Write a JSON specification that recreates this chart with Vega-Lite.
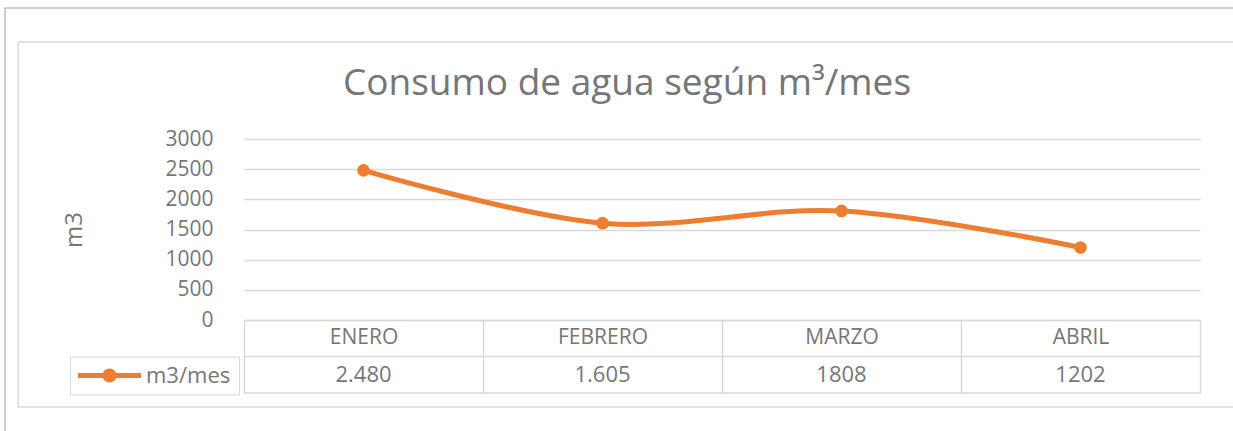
{
  "$schema": "https://vega.github.io/schema/vega-lite/v6.json",
  "width": 956,
  "height": 181,
  "autosize": "none",
  "padding": {"left": 244, "top": 139, "right": 33, "bottom": 111},
  "background": "#ffffff",
  "title": {
    "text": "Consumo de agua según m³/mes",
    "font": "Open Sans",
    "fontSize": 37,
    "fontWeight": "normal",
    "color": "#767676",
    "anchor": "middle",
    "frame": "group",
    "baseline": "alphabetic",
    "offset": 0,
    "dx": -95,
    "dy": 125
  },
  "config": {
    "font": "Open Sans",
    "view": {"stroke": null}
  },
  "data": {
    "values": [
      {"mes": "ENERO", "m3": 2480, "label": "2.480", "serie": "m3/mes"},
      {"mes": "FEBRERO", "m3": 1605, "label": "1.605", "serie": "m3/mes"},
      {"mes": "MARZO", "m3": 1808, "label": "1808", "serie": "m3/mes"},
      {"mes": "ABRIL", "m3": 1202, "label": "1202", "serie": "m3/mes"}
    ]
  },
  "resolve": {"scale": {"x": "independent"}, "axis": {"x": "independent"}},
  "layer": [
    {
      "data": {"values": [{}]},
      "mark": {"type": "rect", "fill": "transparent", "stroke": "#bfbfbf", "strokeWidth": 1.5, "clip": false},
      "encoding": {
        "x": {"datum": -1.0, "type": "quantitative", "scale": {"domain": [0, 4], "nice": false, "zero": false}, "axis": null},
        "x2": {"datum": 4.5},
        "y": {"datum": 5171, "type": "quantitative", "scale": {"domain": [0, 3000], "nice": false},
          "axis": {"values": [0, 500, 1000, 1500, 2000, 2500, 3000], "format": "d", "title": "m3", "titleFont": "Open Sans", "titleFontSize": 24, "titleFontWeight": "normal", "titleColor": "#767676", "titlePadding": 78, "domain": false, "ticks": false, "labelPadding": 31, "labelFont": "Open Sans", "labelFontSize": 21, "labelColor": "#767676", "grid": true, "gridColor": "#d9d9d9", "gridWidth": 1.5}},
        "y2": {"datum": -2000}
      }
    },
    {
      "data": {"values": [{}]},
      "mark": {"type": "rect", "fill": "transparent", "stroke": "#d9d9d9", "strokeWidth": 1.5, "clip": false},
      "encoding": {
        "x": {"datum": -0.945, "type": "quantitative", "scale": {"domain": [0, 4], "nice": false, "zero": false}, "axis": null},
        "x2": {"datum": 4.3},
        "y": {"datum": 4608, "type": "quantitative", "scale": {"domain": [0, 3000], "nice": false},
          "axis": {"values": [0, 500, 1000, 1500, 2000, 2500, 3000], "format": "d", "title": "m3", "titleFont": "Open Sans", "titleFontSize": 24, "titleFontWeight": "normal", "titleColor": "#767676", "titlePadding": 78, "domain": false, "ticks": false, "labelPadding": 31, "labelFont": "Open Sans", "labelFontSize": 21, "labelColor": "#767676", "grid": true, "gridColor": "#d9d9d9", "gridWidth": 1.5}},
        "y2": {"datum": -1442}
      }
    },
    {
      "layer": [
        {
          "data": {"values": [{}]},
          "mark": {"type": "rule", "stroke": "#d9d9d9", "strokeWidth": 1.5, "clip": false},
          "encoding": {
            "y": {"datum": -605, "type": "quantitative", "scale": {"domain": [0, 3000], "nice": false},
              "axis": {"values": [0, 500, 1000, 1500, 2000, 2500, 3000], "format": "d", "title": "m3", "titleFont": "Open Sans", "titleFontSize": 24, "titleFontWeight": "normal", "titleColor": "#767676", "titlePadding": 78, "domain": false, "ticks": false, "labelPadding": 31, "labelFont": "Open Sans", "labelFontSize": 21, "labelColor": "#767676", "grid": true, "gridColor": "#d9d9d9", "gridWidth": 1.5}}
          }
        },
        {
          "data": {"values": [{}]},
          "mark": {"type": "rule", "stroke": "#d9d9d9", "strokeWidth": 1.5, "clip": false},
          "encoding": {
            "y": {"datum": -1210, "type": "quantitative", "scale": {"domain": [0, 3000], "nice": false},
              "axis": {"values": [0, 500, 1000, 1500, 2000, 2500, 3000], "format": "d", "title": "m3", "titleFont": "Open Sans", "titleFontSize": 24, "titleFontWeight": "normal", "titleColor": "#767676", "titlePadding": 78, "domain": false, "ticks": false, "labelPadding": 31, "labelFont": "Open Sans", "labelFontSize": 21, "labelColor": "#767676", "grid": true, "gridColor": "#d9d9d9", "gridWidth": 1.5}}
          }
        },
        {
          "mark": {"type": "text", "fontSize": 22, "font": "Open Sans", "color": "#767676", "baseline": "middle", "align": "center", "clip": false},
          "encoding": {
            "x": {"field": "mes", "type": "nominal", "sort": ["ENERO", "FEBRERO", "MARZO", "ABRIL"], "scale": {"type": "band", "paddingInner": 0, "paddingOuter": 0}},
            "y": {"datum": -907, "type": "quantitative", "scale": {"domain": [0, 3000], "nice": false},
              "axis": {"values": [0, 500, 1000, 1500, 2000, 2500, 3000], "format": "d", "title": "m3", "titleFont": "Open Sans", "titleFontSize": 24, "titleFontWeight": "normal", "titleColor": "#767676", "titlePadding": 78, "domain": false, "ticks": false, "labelPadding": 31, "labelFont": "Open Sans", "labelFontSize": 21, "labelColor": "#767676", "grid": true, "gridColor": "#d9d9d9", "gridWidth": 1.5}},
            "text": {"field": "label"}
          }
        },
        {
          "mark": {"type": "line", "color": "#ED7D31", "strokeWidth": 5, "interpolate": "cardinal", "tension": 0, "strokeCap": "round"},
          "encoding": {
            "x": {
              "field": "mes", "type": "nominal", "sort": ["ENERO", "FEBRERO", "MARZO", "ABRIL"],
              "scale": {"type": "band", "paddingInner": 0, "paddingOuter": 0},
              "axis": {
                "title": null,
                "orient": "bottom",
                "domain": true, "domainColor": "#d9d9d9", "domainWidth": 1.5,
                "ticks": true, "tickBand": "extent", "tickSize": 73, "tickColor": "#d9d9d9", "tickWidth": 1.5,
                "labelAngle": 0, "labelAlign": "center", "labelPadding": -56, "labelBaseline": "middle",
                "labelFont": "Open Sans", "labelFontSize": 21, "labelColor": "#767676",
                "grid": false
              }
            },
            "y": {
              "field": "m3", "type": "quantitative",
              "scale": {"domain": [0, 3000], "nice": false},
              "axis": {"values": [0, 500, 1000, 1500, 2000, 2500, 3000], "format": "d", "title": "m3", "titleFont": "Open Sans", "titleFontSize": 24, "titleFontWeight": "normal", "titleColor": "#767676", "titlePadding": 78, "domain": false, "ticks": false, "labelPadding": 31, "labelFont": "Open Sans", "labelFontSize": 21, "labelColor": "#767676", "grid": true, "gridColor": "#d9d9d9", "gridWidth": 1.5}
            }
          }
        },
        {
          "mark": {"type": "point", "filled": true, "size": 160, "opacity": 1, "shape": "circle"},
          "encoding": {
            "x": {"field": "mes", "type": "nominal", "sort": ["ENERO", "FEBRERO", "MARZO", "ABRIL"], "scale": {"type": "band", "paddingInner": 0, "paddingOuter": 0}},
            "y": {"field": "m3", "type": "quantitative", "scale": {"domain": [0, 3000], "nice": false},
              "axis": {"values": [0, 500, 1000, 1500, 2000, 2500, 3000], "format": "d", "title": "m3", "titleFont": "Open Sans", "titleFontSize": 24, "titleFontWeight": "normal", "titleColor": "#767676", "titlePadding": 78, "domain": false, "ticks": false, "labelPadding": 31, "labelFont": "Open Sans", "labelFontSize": 21, "labelColor": "#767676", "grid": true, "gridColor": "#d9d9d9", "gridWidth": 1.5}},
            "color": {
              "field": "serie", "type": "nominal",
              "scale": {"range": ["#ED7D31"]},
              "legend": {
                "title": null,
                "orient": "none",
                "legendX": -174,
                "legendY": 217.5,
                "padding": 8,
                "strokeColor": "#d9d9d9",
                "symbolType": "M-1.1,-0.25H5.2V0.25H-1.1Z M1.35,0A0.7,0.7 0 1,1 2.75,0A0.7,0.7 0 1,1 1.35,0Z",
                "symbolSize": 400,
                "symbolFillColor": "#ED7D31",
                "symbolStrokeWidth": 0,
                "symbolOpacity": 1,
                "labelOffset": 46,
                "labelFont": "Open Sans",
                "labelFontSize": 22,
                "labelColor": "#767676"
              }
            }
          }
        }
      ]
    }
  ]
}
